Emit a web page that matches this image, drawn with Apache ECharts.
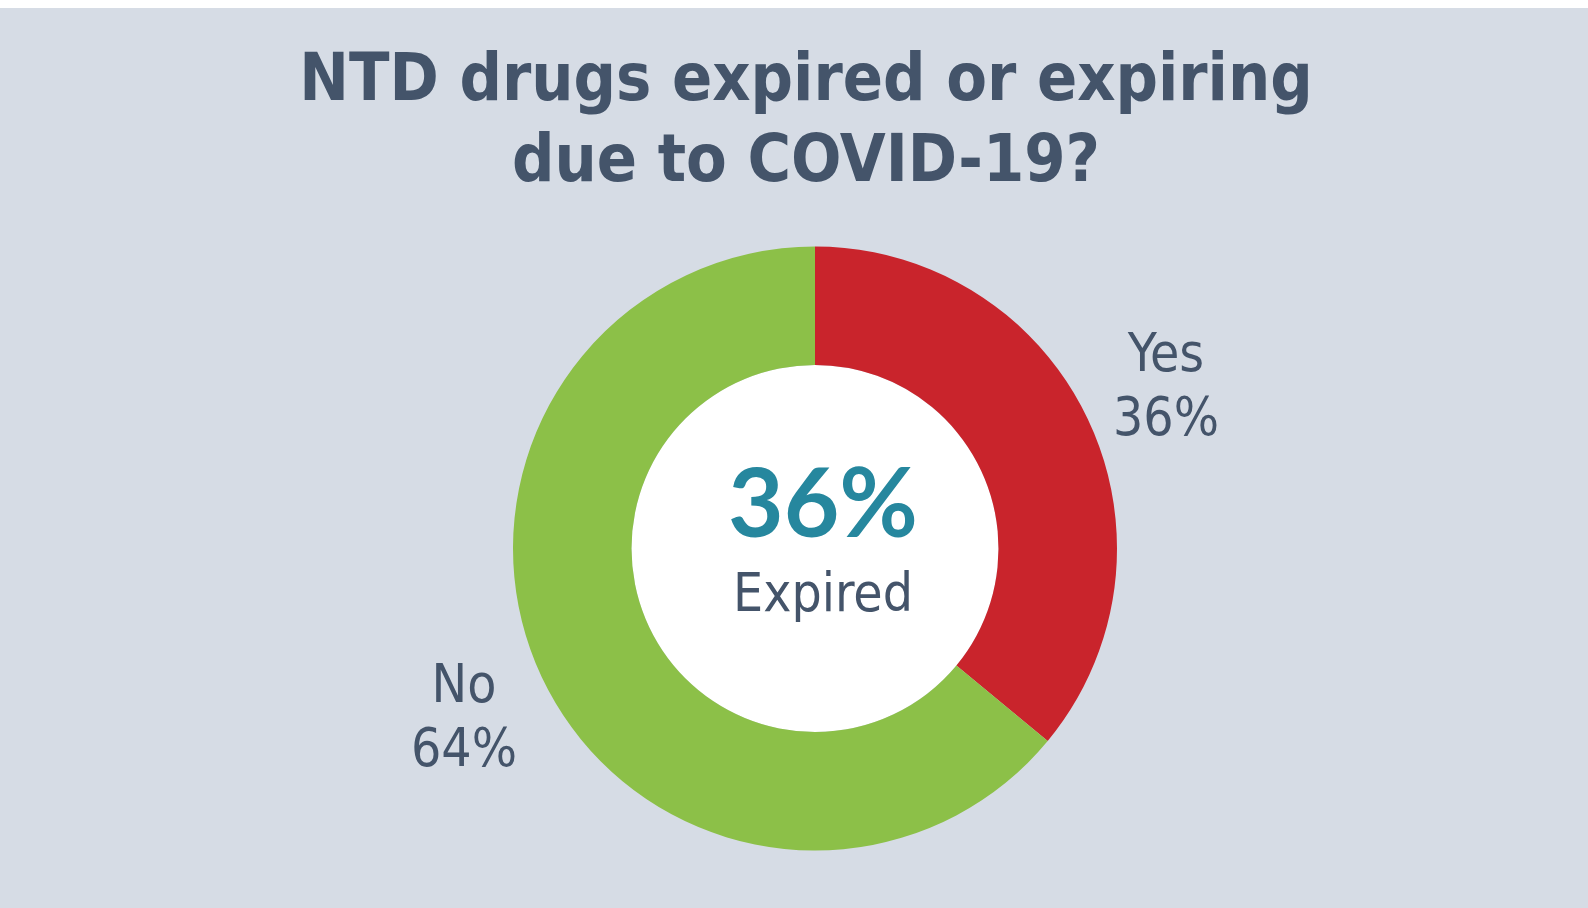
<!DOCTYPE html>
<html>
<head>
<meta charset="utf-8">
<script src="https://cdn.jsdelivr.net/npm/echarts@6/dist/echarts.min.js"></script>
<style>
html,body{margin:0;padding:0;background:#fff;}
#chart{width:1588px;height:908px;}
</style>
</head>
<body>
<div id="chart"></div>
<script>
// ---- data ----
const categories = ['Yes', 'No'];
const values = [36, 64];
const sliceColors = ['#c9242c', '#8cc048'];
const titleLines = ['NTD drugs expired or expiring', 'due to COVID-19?'];
const centerValueIndex = 0;
const centerCaption = 'Expired';

// ---- layout / style ----
const labelPos = [[1166, 389], [464, 720]];
const textColor = '#44546a';
const condensed = "'DejaVu Sans Condensed', 'DejaVu Sans', sans-serif";

const chart = echarts.init(document.getElementById('chart'));

const total = values.reduce((a, b) => a + b, 0);
const pct = v => Math.round(v / total * 100) + '%';

const option = {
  backgroundColor: '#d6dce5',
  animation: false,
  graphic: [{
    type: 'rect', silent: true, z: 100,
    shape: { x: 0, y: 0, width: 1588, height: 8 },
    style: { fill: '#ffffff' }
  }],
  title: [
    {
      text: titleLines.join('\n'),
      left: 806, top: 42, padding: 0,
      textAlign: 'center',
      textStyle: {
        fontFamily: condensed, fontWeight: 'bold', fontSize: 66,
        lineHeight: 81, color: textColor
      }
    },
    {
      text: '{a|' + pct(values[centerValueIndex]) + '}\n{b|' + centerCaption + '}',
      left: 823, top: 456, padding: 0,
      textAlign: 'center',
      textStyle: {
        fontWeight: 'normal',
        rich: {
          a: { fontFamily: "Lato, 'Noto Sans', sans-serif", fontWeight: 'bold', fontSize: 96, lineHeight: 100, color: '#26879e', align: 'center' },
          b: { fontFamily: condensed, fontWeight: 'normal', fontSize: 53, lineHeight: 83, color: textColor, align: 'center' }
        }
      }
    }
  ],
  series: [
    {
      type: 'pie',
      silent: true,
      center: [815, 548.5],
      radius: [0, 183.5],
      itemStyle: { color: '#ffffff' },
      label: { show: false },
      labelLine: { show: false },
      data: [{ value: 1, name: '' }],
      z: 1
    },
    {
      type: 'pie',
      center: [815, 548.5],
      radius: [183.5, 302],
      startAngle: 90,
      clockwise: true,
      emphasis: { disabled: true },
      itemStyle: { borderWidth: 0 },
      color: sliceColors,
      data: categories.map((c, i) => ({ name: c, value: values[i] })),
      label: {
        show: true,
        position: 'outside',
        formatter: p => p.name + '\n' + pct(p.value),
        fontFamily: condensed,
        fontSize: 53,
        lineHeight: 64,
        color: textColor,
        align: 'center'
      },
      labelLine: { show: false },
      labelLayout: function (params) {
        const pos = labelPos[params.dataIndex];
        return { x: pos[0], y: pos[1], align: 'center', verticalAlign: 'middle' };
      },
      z: 2
    }
  ]
};
chart.setOption(option);
</script>
</body>
</html>
